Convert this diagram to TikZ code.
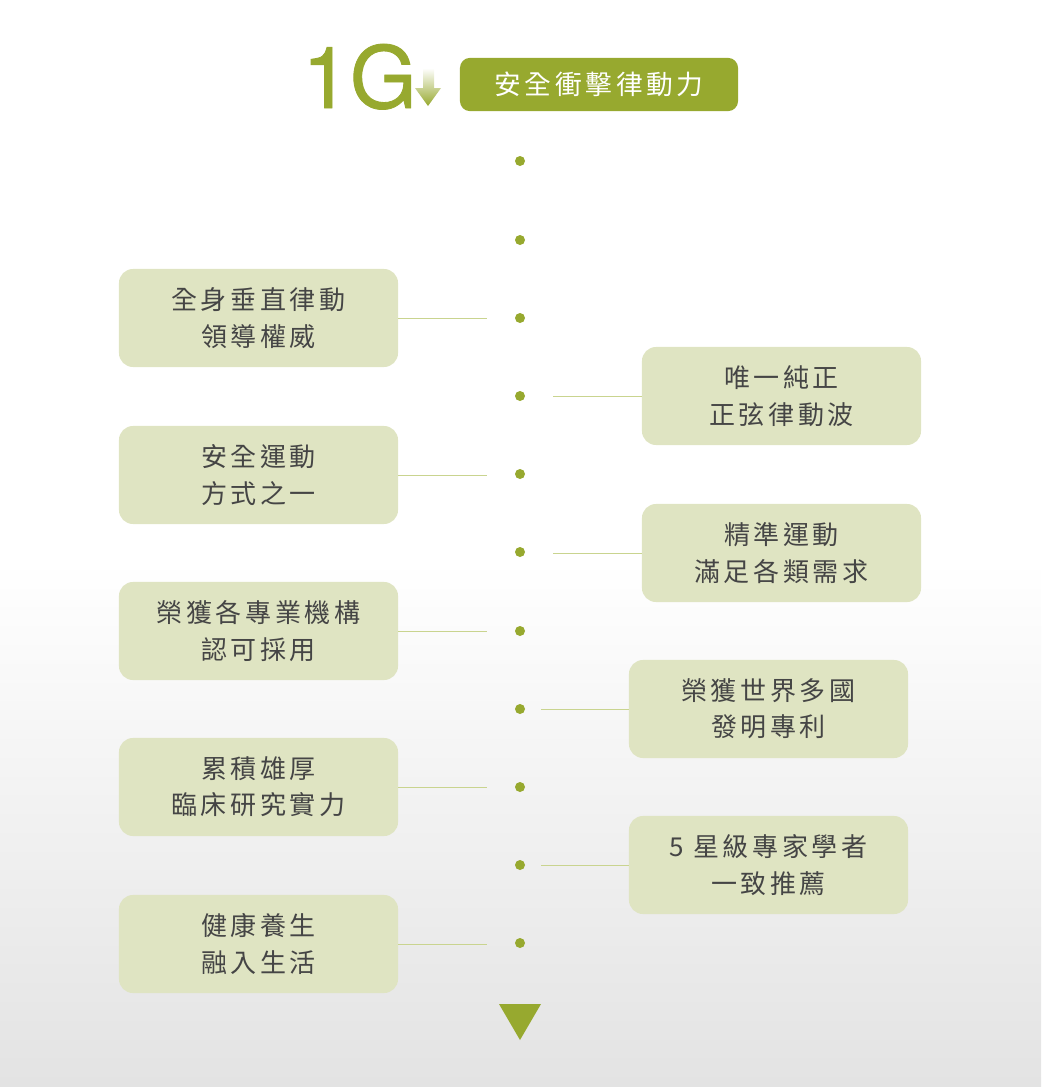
\documentclass[tikz,border=0pt]{standalone}
\usepackage{fontspec}
\setmainfont{Noto Sans CJK TC}
\newfontfamily\titlefont[FakeBold=1]{TeX Gyre Heros}
\usetikzlibrary{positioning}

\definecolor{leafgreen}{HTML}{97A92F}
\definecolor{palegreen}{HTML}{DFE4C2}
\definecolor{linegreen}{HTML}{C9D48F}
\definecolor{textgrey}{HTML}{454545}

\begin{document}
\begin{tikzpicture}[
  x=0.025cm, y=-0.025cm,
  dot/.style={circle, fill=leafgreen, inner sep=0pt, minimum size=0.25cm},
  card/.style={fill=palegreen, rounded corners=0.35cm, minimum width=6.975cm, minimum height=2.45cm,
    align=center, text=textgrey, inner sep=0pt,
    font=\fontsize{18.5}{25.8}\selectfont\addfontfeature{LetterSpace=14}},
  link/.style={draw=linegreen, line width=0.7pt}
]
\useasboundingbox (0,0) rectangle (1041,1087);

% soft grey floor
\shade[top color=white, bottom color=black!11] (0,560) rectangle (1041,1087);

% heading
\node[text=leafgreen, font=\titlefont\fontsize{61}{61}\selectfont, inner sep=0pt, anchor=base west] (big) at (302,108) {1G};
\shade[top color=white, bottom color=leafgreen]
  (423,68) -- (434,68) -- (434,88) -- (441,88) -- (428,106) -- (415,88) -- (423,88) -- cycle;
\node[fill=leafgreen, rounded corners=0.25cm, minimum width=6.95cm, minimum height=1.33cm,
  text=white, font=\fontsize{19}{19}\selectfont\addfontfeature{LetterSpace=14}] (head) at (599,84.5) {安全衝擊律動力};

% timeline dots
\foreach \i/\y in {1/161,2/240,3/318,4/396,5/474,6/552,7/631,8/709,9/787,10/865,11/943}
  \node[dot] (d\i) at (520,\y) {};

% left cards
\node[card] (l1) at (258.5,318) {全身垂直律動\\領導權威};
\node[card] (l2) at (258.5,475) {安全運動\\方式之一};
\node[card] (l3) at (258.5,631) {榮獲各專業機構\\認可採用};
\node[card] (l4) at (258.5,787) {累積雄厚\\臨床研究實力};
\node[card] (l5) at (258.5,944) {健康養生\\融入生活};

% right cards
\node[card] (r1) at (781.5,396) {唯一純正\\正弦律動波};
\node[card] (r2) at (781.5,553) {精準運動\\滿足各類需求};
\node[card] (r3) at (768.5,709) {榮獲世界多國\\發明專利};
\node[card] (r4) at (768.5,865) {5 星級專家學者\\一致推薦};

% connectors
\coordinate (e1) at (487,318);
\coordinate (e2) at (487,475);
\coordinate (e3) at (487,631);
\coordinate (e4) at (487,787);
\coordinate (e5) at (487,944);
\coordinate (f1) at (553,396);
\coordinate (f2) at (553,553);
\coordinate (f3) at (541,709);
\coordinate (f4) at (541,865);
\foreach \a/\b in {l1/e1,l2/e2,l3/e3,l4/e4,l5/e5}
  \draw[link] (\a.east) -- (\b);
\foreach \a/\b in {r1/f1,r2/f2,r3/f3,r4/f4}
  \draw[link] (\a.west) -- (\b);

% end marker
\fill[leafgreen] (499,1004) -- (541,1004) -- (520,1040) -- cycle;

\end{tikzpicture}
\end{document}
